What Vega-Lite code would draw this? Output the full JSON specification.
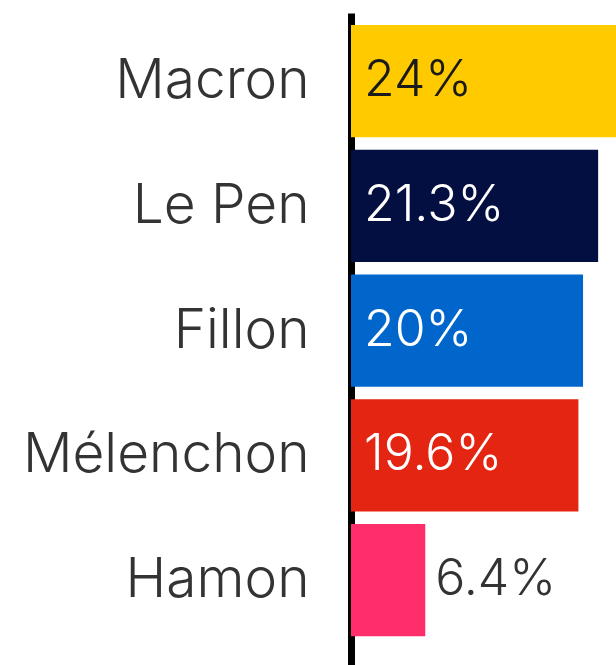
{
  "$schema": "https://vega.github.io/schema/vega-lite/v6.json",
  "width": 265,
  "height": 652,
  "autosize": {"type": "none"},
  "padding": {"left": 351, "top": 13, "right": 0, "bottom": 0},
  "background": "white",
  "config": {"view": {"stroke": null}, "font": "Inter"},
  "data": {
    "values": [
      {"party": "Macron", "pct": 24, "label": "24%"},
      {"party": "Le Pen", "pct": 21.3, "label": "21.3%"},
      {"party": "Fillon", "pct": 20, "label": "20%"},
      {"party": "Mélenchon", "pct": 19.6, "label": "19.6%"},
      {"party": "Hamon", "pct": 6.4, "label": "6.4%"}
    ]
  },
  "encoding": {
    "y": {
      "field": "party",
      "type": "nominal",
      "sort": null,
      "scale": {"paddingInner": 0.1, "paddingOuter": 0.163, "align": 0.295},
      "axis": {
        "title": null,
        "domain": true,
        "domainColor": "#000000",
        "domainWidth": 7,
        "ticks": false,
        "labelFont": "Inter",
        "labelFontSize": 55,
        "labelFontWeight": 300,
        "labelColor": "#333333",
        "labelPadding": 42,
        "labelLimit": 0
      }
    }
  },
  "layer": [
    {
      "mark": {"type": "bar", "clip": false},
      "encoding": {
        "x": {"field": "pct", "type": "quantitative", "scale": {"domain": [0, 22.84], "nice": false, "zero": true}, "axis": null},
        "color": {
          "field": "party",
          "type": "nominal",
          "scale": {
            "domain": ["Macron", "Le Pen", "Fillon", "Mélenchon", "Hamon"],
            "range": ["#FFCA00", "#020F40", "#0066CC", "#E32512", "#FF2D6A"]
          },
          "legend": null
        }
      }
    },
    {
      "transform": [{"filter": "datum.pct > 10"}],
      "mark": {"type": "text", "align": "left", "baseline": "middle", "dx": 13, "fontSize": 50, "fontWeight": 300, "font": "Inter"},
      "encoding": {
        "x": {"datum": 0, "type": "quantitative"},
        "text": {"field": "label"},
        "color": {
          "condition": {"test": "datum.party === 'Macron'", "value": "#1a1a1a"},
          "value": "#ffffff"
        }
      }
    },
    {
      "transform": [{"filter": "datum.pct <= 10"}],
      "mark": {"type": "text", "align": "left", "baseline": "middle", "dx": 10, "fontSize": 50, "fontWeight": 300, "font": "Inter", "color": "#333333"},
      "encoding": {
        "x": {"field": "pct", "type": "quantitative"},
        "text": {"field": "label"}
      }
    }
  ]
}
